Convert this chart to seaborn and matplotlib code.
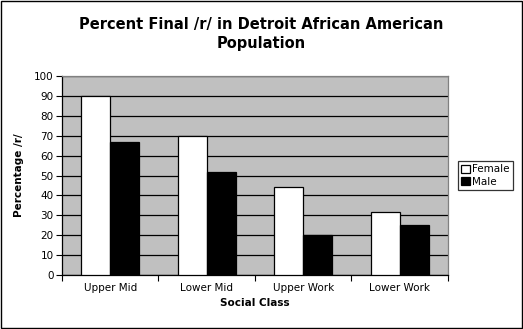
import matplotlib
matplotlib.use("Agg")
import matplotlib.pyplot as plt
import seaborn as sns
import pandas as pd
from matplotlib.patches import Rectangle

categories = ["Upper Mid", "Lower Mid", "Upper Work", "Lower Work"]
female = [90, 70, 44, 31.5]
male = [67, 52, 20, 25]

df = pd.DataFrame({
    "Social Class": categories * 2,
    "Percentage": female + male,
    "Sex": ["Female"] * len(categories) + ["Male"] * len(categories),
})

sns.set_style("white")
plt.rcParams["font.family"] = ["DejaVu Sans"]
plt.rcParams["text.color"] = "black"
plt.rcParams["axes.labelcolor"] = "black"
plt.rcParams["xtick.color"] = "black"
plt.rcParams["ytick.color"] = "black"

fig = plt.figure(figsize=(5.23, 3.29), dpi=100)
ax = fig.add_axes([0.1185, 0.164, 0.738, 0.605])
ax.set_facecolor("#C0C0C0")

sns.barplot(data=df, x="Social Class", y="Percentage", hue="Sex",
            palette={"Female": "white", "Male": "black"},
            edgecolor="black", linewidth=0.9, width=0.6, ax=ax,
            legend=True, zorder=3)

ax.set_ylim(0, 100)
ax.set_xlim(-0.5, 3.5)
ax.set_yticks(range(0, 101, 10))
ax.yaxis.grid(True, color="black", linewidth=0.9, zorder=1)
ax.set_axisbelow(True)
ax.tick_params(axis="y", length=4, width=0.8, color="black", labelsize=7.5, pad=2, left=True)
ax.tick_params(axis="x", length=0, labelsize=7.5, pad=6)
# category separator ticks
ax.set_xticks([-0.5, 0.5, 1.5, 2.5, 3.5], minor=True)
ax.tick_params(axis="x", which="minor", length=4, width=0.8, color="black", bottom=True)

for side in ["left", "bottom"]:
    ax.spines[side].set_color("black")
    ax.spines[side].set_linewidth(0.9)
for side in ["top", "right"]:
    ax.spines[side].set_color("#808080")
    ax.spines[side].set_linewidth(0.9)

ax.set_xlabel("Social Class", fontsize=7.5, fontweight="bold", labelpad=3)
ax.set_ylabel("Percentage /r/", fontsize=7.5, fontweight="bold", labelpad=7)

leg = ax.legend(loc="center left", bbox_to_anchor=(1.025, 0.5), frameon=True,
                fancybox=False, fontsize=7.5, handlelength=0.9, handleheight=0.9,
                handletextpad=0.2, borderpad=0.3, labelspacing=0.2, borderaxespad=0)
leg.get_frame().set_edgecolor("black")
leg.get_frame().set_linewidth(0.9)

fig.text(0.5, 0.897, "Percent Final /r/ in Detroit African American\nPopulation",
         ha="center", va="center", fontsize=10.5, fontweight="bold", linespacing=1.35,
         color="black")

fig.patches.append(Rectangle((0.002, 0.003), 0.996, 0.994, transform=fig.transFigure,
                             fill=False, edgecolor="black", linewidth=1.0))

fig.savefig("out.png", dpi=100)
